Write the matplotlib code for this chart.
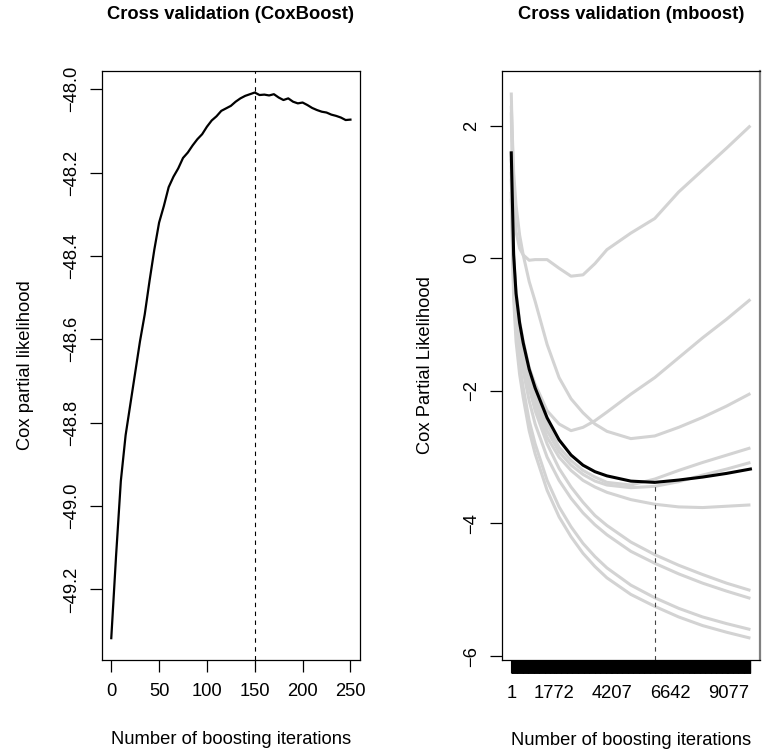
import numpy as np
import matplotlib
matplotlib.use("Agg")
import matplotlib.pyplot as plt

plt.rcParams['font.family'] = ['Liberation Sans', 'DejaVu Sans']

# ---------------- CoxBoost cross validation ----------------
cox_iter = list(range(0, 251, 5))
cox_cvll = [-49.317, -49.12, -48.94, -48.83, -48.755, -48.68, -48.605, -48.54, -48.46, -48.385,
            -48.32, -48.28, -48.235, -48.21, -48.19, -48.165, -48.152, -48.135, -48.12, -48.108,
            -48.09, -48.075, -48.065, -48.052, -48.046, -48.04, -48.03, -48.022, -48.016, -48.012,
            -48.008, -48.014, -48.013, -48.015, -48.012, -48.02, -48.026, -48.022, -48.03, -48.034,
            -48.032, -48.038, -48.045, -48.05, -48.054, -48.056, -48.061, -48.064, -48.068, -48.074,
            -48.073]
cox_opt = 150
cox_xticks = [0, 50, 100, 150, 200, 250]
cox_yticks = [-49.2, -49.0, -48.8, -48.6, -48.4, -48.2, -48.0]

# ---------------- mboost cross validation ----------------
mb_iter = [1, 100, 200, 350, 500, 750, 1000, 1500, 2000, 2500, 3000, 3500, 4000,
           5000, 6000, 7000, 8000, 9000, 10000]
fold_a = [2.5, 0.9, 0.4, 0.15, 0.05, -0.03, -0.02, -0.02, -0.15, -0.27, -0.25, -0.08, 0.13,
          0.38, 0.6, 1.0, 1.33, 1.66, 2.0]
fold_b = [2.2, 0.0, -0.5, -0.95, -1.25, -1.65, -1.9, -2.3, -2.5, -2.6, -2.55, -2.45, -2.32,
          -2.05, -1.8, -1.5, -1.2, -0.92, -0.62]
fold_c = [2.3, 1.3, 0.8, 0.35, 0.05, -0.35, -0.65, -1.3, -1.8, -2.12, -2.33, -2.5, -2.61,
          -2.72, -2.68, -2.55, -2.4, -2.23, -2.04]
fold_e = [1.5, 0.0, -0.6, -1.05, -1.35, -1.75, -2.05, -2.5, -2.85, -3.05, -3.2, -3.3, -3.38,
          -3.42, -3.33, -3.2, -3.08, -2.97, -2.86]
fold_f = [1.4, -0.1, -0.7, -1.15, -1.45, -1.85, -2.15, -2.6, -2.92, -3.12, -3.26, -3.36, -3.42,
          -3.46, -3.44, -3.37, -3.27, -3.18, -3.08]
fold_g = [1.3, -0.2, -0.8, -1.25, -1.55, -1.95, -2.25, -2.7, -3.0, -3.2, -3.35, -3.45, -3.53,
          -3.64, -3.71, -3.75, -3.76, -3.74, -3.72]
fold_h = [1.6, 0.0, -0.65, -1.15, -1.5, -1.95, -2.3, -2.8, -3.17, -3.45, -3.68, -3.88, -4.03,
          -4.28, -4.47, -4.63, -4.77, -4.9, -5.01]
fold_i = [1.2, -0.3, -0.9, -1.35, -1.7, -2.15, -2.5, -3.0, -3.35, -3.62, -3.84, -4.02, -4.17,
          -4.42, -4.6, -4.76, -4.9, -5.02, -5.13]
fold_j = [1.0, -0.45, -1.1, -1.6, -1.95, -2.45, -2.8, -3.35, -3.75, -4.05, -4.3, -4.5, -4.67,
          -4.93, -5.12, -5.28, -5.41, -5.51, -5.6]
fold_k = [0.9, -0.6, -1.25, -1.75, -2.1, -2.6, -2.95, -3.5, -3.9, -4.2, -4.45, -4.65, -4.82,
          -5.07, -5.25, -5.41, -5.54, -5.64, -5.73]
mb_folds = [fold_a, fold_b, fold_c, fold_e, fold_f, fold_g, fold_h, fold_i, fold_j, fold_k]
mb_opt = 6026
mb_grid_first, mb_grid_last = 1, 10000
mb_xtick_labels = [1, 1772, 4207, 6642, 9077]
mb_yticks = [-6, -4, -2, 0, 2]

# ---------------- layout ----------------
W, H = 771, 751
fig = plt.figure(figsize=(W / 100, H / 100), dpi=100)
fs = 13.2
ax1 = fig.add_axes([101.7 / W, (H - 660) / H, 258.3 / W, 589.3 / H])
ax2 = fig.add_axes([501.7 / W, (H - 660) / H, 258.3 / W, 589.3 / H])


def rlim(vals):
    lo, hi = float(np.min(vals)), float(np.max(vals))
    r = hi - lo
    return lo - 0.04 * r, hi + 0.04 * r


def minus(v, fmt):
    return (fmt % v).replace('-', '\u2212')


for ax in (ax1, ax2):
    for s in ax.spines.values():
        s.set_linewidth(0.9)
        s.set_color('black')
    ax.tick_params(axis='both', which='both', direction='out', length=8.4, width=0.9,
                   labelsize=fs, color='black')
    ax.tick_params(axis='x', pad=8.5)
    ax.tick_params(axis='y', pad=7)

# Left panel
ax1.plot(cox_iter, cox_cvll, color='black', lw=1.6, solid_joinstyle='round')
ax1.axvline(cox_opt, color='black', lw=0.8, ls=(0, (4, 4)))
ax1.set_xlim(rlim(cox_iter))
ax1.set_ylim(rlim(cox_cvll))
ax1.set_xticks(cox_xticks)
ax1.set_xticklabels([str(v) for v in cox_xticks])
ax1.set_yticks(cox_yticks)
ax1.set_yticklabels([minus(v, '%.1f') for v in cox_yticks], rotation=90, va='center')
ax1.set_title("Cross validation (CoxBoost)", fontsize=fs, fontweight='bold', pad=37)
ax1.set_xlabel("Number of boosting iterations", fontsize=fs, labelpad=22)
ax1.set_ylabel("Cox partial likelihood", fontsize=fs, labelpad=21)

# Right panel
for f in mb_folds:
    ax2.plot(mb_iter, f, color='#d3d3d3', lw=2.2, solid_capstyle='butt')
mb_mean = np.mean(np.array(mb_folds), axis=0)
ax2.plot(mb_iter, mb_mean, color='black', lw=2.2)
all_vals = np.concatenate([np.array(mb_folds).ravel(), mb_mean])
ylo, yhi = rlim(all_vals)
ax2.set_xlim(rlim([mb_grid_first, mb_grid_last]))
ax2.set_ylim(ylo, yhi)
ax2.plot([mb_opt, mb_opt], [ylo, np.interp(mb_opt, mb_iter, mb_mean)],
         color='#444444', lw=0.8, ls=(0, (4, 4)))
ax2.set_xticks(mb_xtick_labels)
ax2.set_xticklabels([str(v) for v in mb_xtick_labels])
ax2.set_xticks(np.arange(mb_grid_first, mb_grid_last + 1, 10), minor=True)
ax2.tick_params(axis='x', which='both', length=9.2, width=0.8)
ax2.set_yticks(mb_yticks)
ax2.set_yticklabels([minus(v, '%d') for v in mb_yticks], rotation=90, va='center')
ax2.spines['right'].set_color('#808080')
ax2.spines['right'].set_linewidth(1.6)
ax2.set_title("Cross validation (mboost)", fontsize=fs, fontweight='bold', pad=37)
ax2.set_xlabel("Number of boosting iterations", fontsize=fs, labelpad=22)
ax2.set_ylabel("Cox Partial Likelihood", fontsize=fs, labelpad=21)

fig.savefig("out.png", dpi=100)
